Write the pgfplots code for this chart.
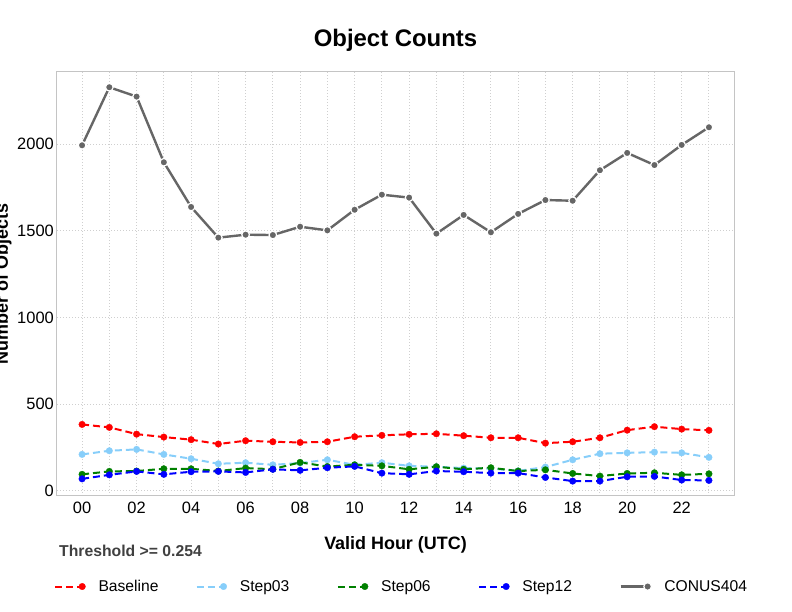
\documentclass[border=0pt]{standalone}
\usepackage{pgfplots}
\pgfplotsset{compat=1.18}
\usepackage{fontspec}
\setmainfont{Liberation Sans}
\definecolor{step03}{HTML}{87CEFA}
\definecolor{conus}{HTML}{666666}
\definecolor{gridc}{HTML}{CFCFCF}
\definecolor{boxc}{HTML}{C4C4C4}
\begin{document}
\begin{tikzpicture}[x=1bp,y=1bp]
\useasboundingbox (0,0) rectangle (792,612);
\begin{axis}[
    at={(57bp,116bp)}, anchor=south west,
    scale only axis, width=677bp, height=424bp,
    xmin=-0.92, xmax=23.92, ymin=-30, ymax=2417,
    xtick={0,2,...,22},
    xticklabels={00,02,04,06,08,10,12,14,16,18,20,22},
    minor xtick={1,3,...,23},
    ytick={0,500,1000,1500,2000},
    major tick length=0pt, minor tick length=0pt,
    grid=both,
    major grid style={gridc, dash pattern=on 0.9bp off 2.1bp, line width=0.9bp},
    minor grid style={gridc, dash pattern=on 0.9bp off 2.1bp, line width=0.9bp},
    axis line style={boxc, line width=1bp},
    /pgf/number format/assume math mode=true,
    /pgf/number format/1000 sep={},
    tick label style={font=\fontsize{16.5}{19}\selectfont, inner sep=0pt},
    yticklabel style={xshift=-3bp},
    xticklabel style={yshift=-6bp},
    title={Object Counts},
    title style={at={(axis description cs:0.5,1.046)}, anchor=base,
        font=\bfseries\fontsize{24}{28}\selectfont},
    xlabel={Valid Hour (UTC)},
    xlabel style={at={(axis description cs:0.5,-0.127)}, anchor=base,
        font=\bfseries\fontsize{18}{21}\selectfont},
    ylabel={Number of Objects},
    ylabel style={at={(axis description cs:-0.0724,0.5)}, anchor=base,
        font=\bfseries\fontsize{18}{21}\selectfont},
    legend columns=5,
    legend style={at={(axis description cs:-0.0044,-0.2135)}, anchor=west,
        draw=none, fill=none, inner sep=0pt,
        font=\fontsize{15.7}{18}\selectfont,
        nodes={inner sep=0pt},
        /tikz/every odd column/.append style={column sep=13bp},
        /tikz/every even column/.append style={column sep=0bp}},
    legend image code/.code={\draw[mark indices={2},#1] plot coordinates {(0bp,0bp) (27bp,0bp)};},
]
\addplot[red, line width=2bp, dash pattern=on 7bp off 4bp,
    mark=*, mark size=3.3bp, mark options={solid, line width=0.3bp}] coordinates {
(0,383) (1,366) (2,327) (3,310) (4,295) (5,270) (6,289) (7,283) (8,279) (9,283) (10,312) (11,320)
(12,326) (13,329) (14,318) (15,306) (16,306) (17,275) (18,283) (19,306) (20,350) (21,370) (22,356) (23,349)};
\addlegendentry{\makebox[97bp][l]{Baseline}}
\addplot[step03, line width=2bp, dash pattern=on 7bp off 4bp,
    mark=*, mark size=3.3bp, mark options={solid, line width=0.3bp}] coordinates {
(0,210) (1,231) (2,239) (3,210) (4,185) (5,156) (6,162) (7,150) (8,160) (9,179) (10,150) (11,162)
(12,144) (13,139) (14,131) (15,128) (16,115) (17,137) (18,179) (19,214) (20,219) (21,223) (22,219) (23,193)};
\addlegendentry{\makebox[97bp][l]{Step03}}
\addplot[green!50!black, line width=2bp, dash pattern=on 7bp off 4bp,
    mark=*, mark size=3.3bp, mark options={solid, line width=0.3bp}] coordinates {
(0,95) (1,112) (2,114) (3,127) (4,127) (5,114) (6,131) (7,125) (8,164) (9,140) (10,150) (11,144)
(12,124) (13,139) (14,124) (15,133) (16,114) (17,121) (18,100) (19,85) (20,100) (21,104) (22,92) (23,98)};
\addlegendentry{\makebox[97bp][l]{Step06}}
\addplot[blue, line width=2bp, dash pattern=on 7bp off 4bp,
    mark=*, mark size=3.3bp, mark options={solid, line width=0.3bp}] coordinates {
(0,69) (1,92) (2,112) (3,95) (4,110) (5,112) (6,106) (7,124) (8,118) (9,133) (10,141) (11,102)
(12,95) (13,114) (14,110) (15,102) (16,102) (17,77) (18,56) (19,56) (20,81) (21,83) (22,62) (23,60)};
\addlegendentry{\makebox[97bp][l]{Step12}}
\addplot[conus, line width=2.4bp,
    mark=*, mark size=3.8bp, mark options={fill=conus, draw=white, line width=1.2bp}] coordinates {
(0,1994) (1,2329) (2,2275) (3,1896) (4,1638) (5,1461) (6,1478) (7,1476) (8,1524) (9,1503) (10,1622) (11,1709)
(12,1692) (13,1484) (14,1592) (15,1492) (16,1598) (17,1678) (18,1674) (19,1850) (20,1950) (21,1880) (22,1996) (23,2098)};
\addlegendentry{CONUS404}
\end{axis}
\node[anchor=base west, inner sep=0pt, text=black!75,
    font=\bfseries\fontsize{15.8}{18}\selectfont] at (59,55.3) {Threshold >= 0.254};
\end{tikzpicture}
\end{document}
